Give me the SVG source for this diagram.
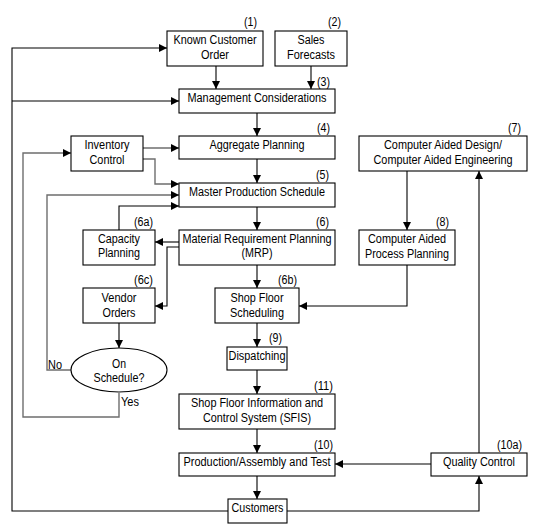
<svg xmlns="http://www.w3.org/2000/svg" width="559" height="529" viewBox="0 0 559 529">
<defs>
<style>
text{font-family:"Liberation Sans",Arial,sans-serif;font-size:12.5px;fill:#000}
.c{text-anchor:middle}
.e{text-anchor:end}
.b{fill:#fff;stroke:#000;stroke-width:1.1}
.l{fill:none;stroke:#000;stroke-width:1.1}
.g{fill:none;stroke:#6e6e6e;stroke-width:1.4}
.a{marker-end:url(#ah)}
</style>
<marker id="ah" viewBox="0 0 10 10" refX="10" refY="5" markerWidth="8" markerHeight="8" markerUnits="userSpaceOnUse" orient="auto"><path d="M0,0 L10,5 L0,10 z" fill="#000"/></marker>
</defs>
<rect width="559" height="529" fill="#fff"/>
<g id="connectors">
<path class="l a" d="M228,511 H12 V48 H167"/>
<path class="l a" d="M12,101 H179"/>
<path class="l a" d="M216,66 V89"/>
<path class="l a" d="M311,66 V89"/>
<path class="l a" d="M257,113 V136"/>
<path class="l a" d="M257,159 V183"/>
<path class="l a" d="M257,207 V230"/>
<path class="l a" d="M257,265 V288"/>
<path class="l a" d="M257,323 V347"/>
<path class="l a" d="M257,370 V394"/>
<path class="l a" d="M257,429 V453"/>
<path class="l a" d="M257,476 V499"/>
<path class="g a" d="M143,148 H179"/>
<path class="g a" d="M143,159 H155 V184 H179"/>
<path class="g a" d="M71,370 H47 V195 H179"/>
<path class="l a" d="M119,230 V206 H179"/>
<path class="g a" d="M119,393 V417 H23 V153 H71"/>
<path class="l a" d="M179,242 H155"/>
<path class="l a" d="M179,247 H167 V306 H155"/>
<path class="l a" d="M119,323 V348"/>
<path class="l a" d="M407,171 V230"/>
<path class="l a" d="M407,265 V306 H299"/>
<path class="l a" d="M479,453 V171"/>
<path class="l a" d="M431,464 H335"/>
<path class="l a" d="M287,511 H479 V476"/>
</g>
<g id="n1"><rect class="b" x="167" y="31" width="96" height="35"/><text class="c" x="215" y="44" textLength="83" lengthAdjust="spacingAndGlyphs">Known Customer</text><text class="c" x="215" y="59" textLength="28" lengthAdjust="spacingAndGlyphs">Order</text><text class="e" x="257" y="26" textLength="13" lengthAdjust="spacingAndGlyphs">(1)</text></g>
<g id="n2"><rect class="b" x="275" y="31" width="72" height="35"/><text class="c" x="311" y="44" textLength="27" lengthAdjust="spacingAndGlyphs">Sales</text><text class="c" x="311" y="59" textLength="48" lengthAdjust="spacingAndGlyphs">Forecasts</text><text class="e" x="341" y="26" textLength="13" lengthAdjust="spacingAndGlyphs">(2)</text></g>
<g id="n3"><rect class="b" x="179" y="89" width="156" height="24"/><text class="c" x="257" y="102" textLength="139" lengthAdjust="spacingAndGlyphs">Management Considerations</text><text class="e" x="330" y="86" textLength="13" lengthAdjust="spacingAndGlyphs">(3)</text></g>
<g id="n4"><rect class="b" x="179" y="136" width="156" height="23"/><text class="c" x="257" y="149" textLength="95" lengthAdjust="spacingAndGlyphs">Aggregate Planning</text><text class="e" x="330" y="132" textLength="13" lengthAdjust="spacingAndGlyphs">(4)</text></g>
<g id="n5"><rect class="b" x="179" y="183" width="156" height="24"/><text class="c" x="257" y="196" textLength="136" lengthAdjust="spacingAndGlyphs">Master Production Schedule</text><text class="e" x="329" y="179" textLength="13" lengthAdjust="spacingAndGlyphs">(5)</text></g>
<g id="n6"><rect class="b" x="179" y="230" width="156" height="35"/><text class="c" x="257" y="243" textLength="149" lengthAdjust="spacingAndGlyphs">Material Requirement Planning</text><text class="c" x="257" y="257" textLength="31" lengthAdjust="spacingAndGlyphs">(MRP)</text><text class="e" x="329" y="226" textLength="13" lengthAdjust="spacingAndGlyphs">(6)</text></g>
<g id="n6a"><rect class="b" x="83" y="230" width="72" height="35"/><text class="c" x="119" y="243" textLength="42" lengthAdjust="spacingAndGlyphs">Capacity</text><text class="c" x="119" y="257" textLength="42" lengthAdjust="spacingAndGlyphs">Planning</text><text class="e" x="153" y="226" textLength="19" lengthAdjust="spacingAndGlyphs">(6a)</text></g>
<g id="n6c"><rect class="b" x="83" y="288" width="72" height="35"/><text class="c" x="119" y="302" textLength="35" lengthAdjust="spacingAndGlyphs">Vendor</text><text class="c" x="119" y="317" textLength="33" lengthAdjust="spacingAndGlyphs">Orders</text><text class="e" x="153" y="284" textLength="19" lengthAdjust="spacingAndGlyphs">(6c)</text></g>
<g id="n6b"><rect class="b" x="215" y="288" width="84" height="35"/><text class="c" x="257" y="302" textLength="53" lengthAdjust="spacingAndGlyphs">Shop Floor</text><text class="c" x="257" y="317" textLength="54" lengthAdjust="spacingAndGlyphs">Scheduling</text><text class="e" x="297" y="284" textLength="19" lengthAdjust="spacingAndGlyphs">(6b)</text></g>
<g id="n9"><rect class="b" x="227" y="347" width="60" height="23"/><text class="c" x="257" y="360" textLength="57" lengthAdjust="spacingAndGlyphs">Dispatching</text><text class="e" x="282" y="342" textLength="13" lengthAdjust="spacingAndGlyphs">(9)</text></g>
<g id="n11"><rect class="b" x="179" y="394" width="156" height="35"/><text class="c" x="257" y="407" textLength="132" lengthAdjust="spacingAndGlyphs">Shop Floor Information and</text><text class="c" x="257" y="422" textLength="108" lengthAdjust="spacingAndGlyphs">Control System (SFIS)</text><text class="e" x="333" y="390" textLength="19" lengthAdjust="spacingAndGlyphs">(11)</text></g>
<g id="n10"><rect class="b" x="179" y="453" width="156" height="23"/><text class="c" x="257" y="466" textLength="147" lengthAdjust="spacingAndGlyphs">Production/Assembly and Test</text><text class="e" x="333" y="449" textLength="19" lengthAdjust="spacingAndGlyphs">(10)</text></g>
<g id="customers"><rect class="b" x="228" y="499" width="59" height="24"/><text class="c" x="257.5" y="512" textLength="52" lengthAdjust="spacingAndGlyphs">Customers</text></g>
<g id="n10a"><rect class="b" x="431" y="453" width="96" height="23"/><text class="c" x="479" y="466" textLength="72" lengthAdjust="spacingAndGlyphs">Quality Control</text><text class="e" x="522" y="449" textLength="25" lengthAdjust="spacingAndGlyphs">(10a)</text></g>
<g id="n7"><rect class="b" x="359" y="136" width="168" height="35"/><text class="c" x="443" y="149" textLength="118" lengthAdjust="spacingAndGlyphs">Computer Aided Design/</text><text class="c" x="443" y="164" textLength="139" lengthAdjust="spacingAndGlyphs">Computer Aided Engineering</text><text class="e" x="521" y="132" textLength="13" lengthAdjust="spacingAndGlyphs">(7)</text></g>
<g id="n8"><rect class="b" x="359" y="230" width="96" height="35"/><text class="c" x="407" y="243" textLength="78" lengthAdjust="spacingAndGlyphs">Computer Aided</text><text class="c" x="407" y="258" textLength="84" lengthAdjust="spacingAndGlyphs">Process Planning</text><text class="e" x="449" y="226" textLength="13" lengthAdjust="spacingAndGlyphs">(8)</text></g>
<g id="inventory"><rect class="b" x="71" y="136" width="72" height="35"/><text class="c" x="107" y="149" textLength="45" lengthAdjust="spacingAndGlyphs">Inventory</text><text class="c" x="107" y="164" textLength="35" lengthAdjust="spacingAndGlyphs">Control</text></g>
<g id="onschedule"><ellipse class="b" cx="119" cy="370" rx="48" ry="22"/><text class="c" x="119" y="368" textLength="14" lengthAdjust="spacingAndGlyphs">On</text><text class="c" x="119" y="382" textLength="51" lengthAdjust="spacingAndGlyphs">Schedule?</text></g>
<g id="labels"><text x="48" y="369" textLength="14" lengthAdjust="spacingAndGlyphs">No</text><text x="121" y="406" textLength="18" lengthAdjust="spacingAndGlyphs">Yes</text></g>
</svg>
